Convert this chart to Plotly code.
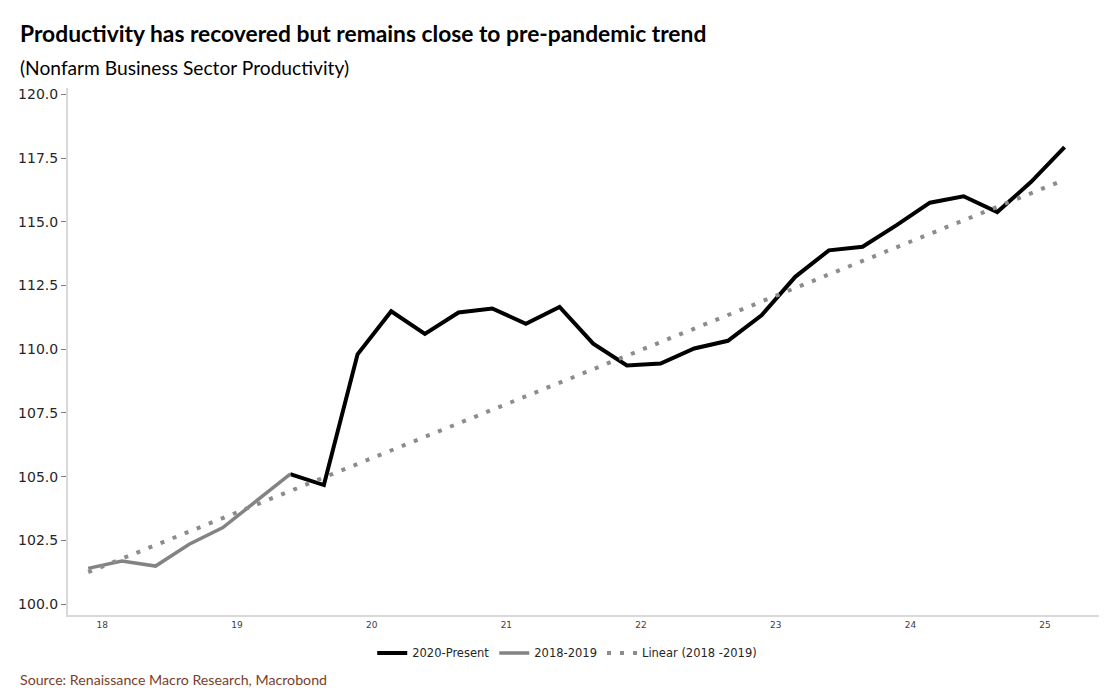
import plotly.graph_objects as go

# ---- data ----
quarters = ["2018Q2", "2018Q3", "2018Q4", "2019Q1", "2019Q2", "2019Q3", "2019Q4",
            "2020Q1", "2020Q2", "2020Q3", "2020Q4",
            "2021Q1", "2021Q2", "2021Q3", "2021Q4",
            "2022Q1", "2022Q2", "2022Q3", "2022Q4",
            "2023Q1", "2023Q2", "2023Q3", "2023Q4",
            "2024Q1", "2024Q2", "2024Q3", "2024Q4",
            "2025Q1", "2025Q2", "2025Q3"]

pre_quarters = quarters[:7]          # 2018-2019
pre_values = [101.40, 101.69, 101.49, 102.35, 103.00, 104.05, 105.10]

post_quarters = quarters[6:]         # 2020-Present (joined at 2019Q4)
post_values = [105.10, 104.67, 109.80, 111.49, 110.60, 111.44, 111.60, 111.00,
               111.66, 110.22, 109.36, 109.44, 110.03, 110.33, 111.33, 112.84,
               113.88, 114.02, 114.86, 115.75, 116.00, 115.38, 116.56, 117.93]

trend_quarters = [quarters[0], quarters[-1]]
trend_values = [101.25, 116.65]      # Linear (2018-2019), as drawn

year_labels = ["18", "19", "20", "21", "22", "23", "24", "25"]
y_ticks = [100.0, 102.5, 105.0, 107.5, 110.0, 112.5, 115.0, 117.5, 120.0]


def qnum(q):
    return int(q[:4]) + (int(q[-1]) - 1) / 4.0


fig = go.Figure()

fig.add_trace(go.Scatter(
    x=[qnum(q) for q in post_quarters], y=post_values, mode="lines",
    name="2020-Present", line=dict(color="#000000", width=4)))

fig.add_trace(go.Scatter(
    x=[qnum(q) for q in pre_quarters], y=pre_values, mode="lines",
    name="2018-2019", line=dict(color="#838383", width=3.5)))

fig.add_trace(go.Scatter(
    x=[qnum(q) for q in trend_quarters], y=trend_values, mode="lines",
    name="Linear (2018 -2019)",
    line=dict(color="#8c8c8c", width=4, dash="4px,9px")))

# year labels sit slightly right of the first quarter plotted in each year
tick_pos = [2018.355 + i for i in range(len(year_labels))]

fig.update_layout(
    width=1099, height=684,
    paper_bgcolor="white", plot_bgcolor="white",
    margin=dict(l=60, r=0, t=80, b=77),
    font=dict(family="DejaVu Sans", color="#262626"),
    showlegend=True,
    legend=dict(orientation="h", x=0.4805, xanchor="center",
                y=-0.072, yanchor="middle",
                font=dict(family="DejaVu Sans", size=11.5, color="#262626"),
                itemwidth=30, tracegroupgap=0, traceorder="normal"),
    xaxis=dict(range=[2018.10, 2025.815], tickmode="array",
               tickvals=tick_pos, ticktext=year_labels,
               showgrid=False, zeroline=False, showline=True,
               linecolor="#d9d9d9", linewidth=2, ticks="",
               tickfont=dict(family="DejaVu Sans", size=9, color="#404040")),
    yaxis=dict(range=[99.57, 120.25], tickmode="array",
               tickvals=y_ticks, ticktext=[f"{v:.1f}" for v in y_ticks],
               showgrid=False, zeroline=False, showline=True,
               linecolor="#d9d9d9", linewidth=2,
               ticks="outside", ticklen=5, tickcolor="#808080", tickwidth=1,
               tickfont=dict(family="DejaVu Sans", size=14, color="#262626")),
    annotations=[
        dict(text="<b>Productivity has recovered but remains close to pre-pandemic trend</b>",
             xref="paper", yref="paper", x=-0.0481, y=1.1044,
             xanchor="left", yanchor="middle", showarrow=False,
             font=dict(family="Lato", size=22.8, color="#000000")),
        dict(text="(Nonfarm Business Sector Productivity)",
             xref="paper", yref="paper", x=-0.0481, y=1.0398,
             xanchor="left", yanchor="middle", showarrow=False,
             font=dict(family="Lato", size=19.2, color="#000000")),
        dict(text="Source: Renaissance Macro Research, Macrobond",
             xref="paper", yref="paper", x=-0.0481, y=-0.1233,
             xanchor="left", yanchor="middle", showarrow=False,
             font=dict(family="Lato", size=14.2, color="#7a3e2b")),
    ],
)

fig.write_html("out.html")
